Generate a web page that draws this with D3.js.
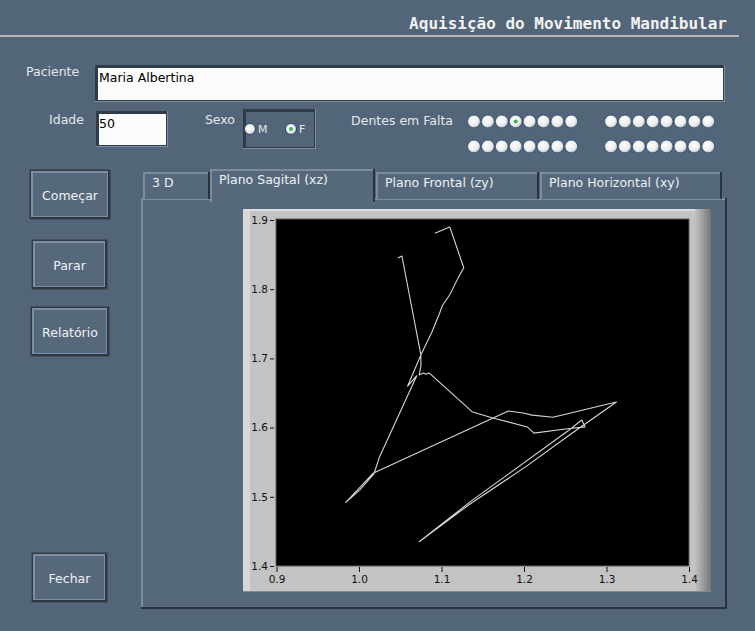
<!DOCTYPE html>
<html>
<head>
<meta charset="utf-8">
<script src="https://d3js.org/d3.v7.min.js"></script>
<style>
  body { margin: 0; background: #536578; }
  svg { display: block; }
</style>
</head>
<body>
<svg id="painel"></svg>
<script>
  // trajectory of the mandible, sagittal plane (x, z)
  const trajX = [1.047, 1.052, 1.075, 1.075, 1.073, 1.078, 1.081, 1.085, 1.137, 1.162,
                 1.204, 1.212, 1.250, 1.274, 1.270, 1.253, 1.135, 1.073, 1.135, 1.204,
                 1.256, 1.312, 1.235, 1.210, 1.199, 1.181, 1.017, 0.984, 1.001, 1.018,
                 1.025, 1.070, 1.059, 1.075, 1.088, 1.097, 1.101, 1.110, 1.120, 1.127,
                 1.110, 1.092];
  const trajZ = [1.845, 1.848, 1.705, 1.689, 1.676, 1.679, 1.677, 1.679, 1.623, 1.614,
                 1.601, 1.592, 1.598, 1.601, 1.611, 1.595, 1.493, 1.435, 1.490, 1.545,
                 1.590, 1.637, 1.615, 1.618, 1.621, 1.624, 1.534, 1.492, 1.510, 1.533,
                 1.558, 1.675, 1.660, 1.705, 1.737, 1.763, 1.776, 1.792, 1.816, 1.831,
                 1.890, 1.881];
  const xTicks = [0.9, 1.0, 1.1, 1.2, 1.3, 1.4];
  const yTicks = [1.4, 1.5, 1.6, 1.7, 1.8, 1.9];
  const tabs = ["3 D", "Plano Sagital (xz)", "Plano Frontal (zy)", "Plano Horizontal (xy)"];
  const buttons = ["Começar", "Parar", "Relatório", "Fechar"];
  const paciente = "Maria Albertina";
  const idade = "50";
  const dentesEmFalta = [3];   // index of the marked tooth (upper left group)

  const width = 755, height = 631;
  const bg = "#536578";
  const uiFont = "DejaVu Sans";

  const svg = d3.select("#painel").attr("width", width).attr("height", height);
  const defs = svg.append("defs");

  const rg = defs.append("radialGradient").attr("id", "bola").attr("cx", "40%").attr("cy", "35%").attr("r", "65%");
  rg.append("stop").attr("offset", "0%").attr("stop-color", "#ffffff");
  rg.append("stop").attr("offset", "70%").attr("stop-color", "#ececec");
  rg.append("stop").attr("offset", "100%").attr("stop-color", "#b7bcc2");

  const lg = defs.append("linearGradient").attr("id", "bordaDir");
  lg.append("stop").attr("offset", "0%").attr("stop-color", "#c2c2c2");
  lg.append("stop").attr("offset", "100%").attr("stop-color", "#767676");

  svg.append("rect").attr("width", width).attr("height", height).attr("fill", bg);

  // title
  svg.append("text")
    .attr("x", 727).attr("y", 29)
    .attr("text-anchor", "end")
    .attr("font-family", "DejaVu Sans Mono").attr("font-weight", "bold").attr("font-size", 16)
    .attr("fill", "#f2f2f2")
    .text("Aquisição do Movimento Mandibular");
  svg.append("line").attr("x1", 0).attr("x2", 739).attr("y1", 36).attr("y2", 36)
    .attr("stroke", "#d9d2c4").attr("stroke-width", 1.5);

  function label(x, y, t, anchor) {
    svg.append("text").attr("x", x).attr("y", y).attr("text-anchor", anchor || "start")
      .attr("font-family", uiFont).attr("font-size", 12.5).attr("fill", "#e4e8ec").text(t);
  }

  function sunken(x, y, w, h, fill) {
    svg.append("rect").attr("x", x).attr("y", y).attr("width", w).attr("height", h).attr("fill", "#7d8ea0");
    svg.append("rect").attr("x", x).attr("y", y).attr("width", w - 1).attr("height", h - 1).attr("fill", "#2e3b48");
    svg.append("rect").attr("x", x + 3).attr("y", y + 3).attr("width", w - 5).attr("height", h - 5).attr("fill", fill);
  }

  // Paciente / Idade / Sexo
  label(26, 76, "Paciente");
  sunken(95, 65, 630, 37, "#fbfbfb");
  svg.append("text").attr("x", 99).attr("y", 82).attr("font-family", uiFont).attr("font-size", 12.5)
    .attr("fill", "#000").text(paciente);

  label(84, 124, "Idade", "end");
  sunken(96, 111, 72, 36, "#fbfbfb");
  svg.append("text").attr("x", 99).attr("y", 128).attr("font-family", uiFont).attr("font-size", 12.5)
    .attr("fill", "#000").text(idade);

  label(235, 124, "Sexo", "end");
  sunken(243, 109, 73, 40, bg);
  [["M", 250, false], ["F", 291, true]].forEach(([t, cx, on]) => {
    svg.append("circle").attr("cx", cx).attr("cy", 129).attr("r", 5.5).attr("fill", "url(#bola)")
      .attr("stroke", "#24496e").attr("stroke-width", 1);
    if (on) svg.append("circle").attr("cx", cx).attr("cy", 129).attr("r", 2).attr("fill", "#2fbf3a");
    svg.append("text").attr("x", cx + 8).attr("y", 133).attr("font-family", uiFont).attr("font-size", 11)
      .attr("fill", "#e4e8ec").text(t);
  });

  // Dentes em Falta
  label(453, 125, "Dentes em Falta", "end");
  const dentes = d3.range(32);
  svg.append("g").selectAll("g").data(dentes).join("g")
    .attr("transform", i => {
      const row = Math.floor(i / 16), col = i % 16;
      const grp = Math.floor(col / 8), k = col % 8;
      return `translate(${474 + grp * 137 + k * 13.9},${121.5 + row * 25})`;
    })
    .each(function (i) {
      const g = d3.select(this);
      g.append("circle").attr("r", 6.4).attr("fill", "url(#bola)").attr("stroke", "#2a4b6e").attr("stroke-width", 0.8);
      if (dentesEmFalta.includes(i)) g.append("circle").attr("r", 2).attr("fill", "#2fbf3a");
    });

  // buttons
  const btnBoxes = [[30, 170, 80, 49], [32, 240, 75, 49], [31, 307, 78, 49], [32, 553, 75, 49]];
  buttons.forEach((t, i) => {
    const [x, y, w, h] = btnBoxes[i];
    const g = svg.append("g");
    g.append("rect").attr("x", x).attr("y", y).attr("width", w).attr("height", h).attr("fill", "#2a3440");
    g.append("rect").attr("x", x + 1).attr("y", y + 1).attr("width", w - 3).attr("height", h - 3).attr("fill", "#7d90a3");
    g.append("rect").attr("x", x + 3).attr("y", y + 3).attr("width", w - 6).attr("height", h - 6).attr("fill", "#56687b");
    g.append("rect").attr("x", x).attr("y", y).attr("width", w).attr("height", h).attr("fill", "none")
      .attr("stroke", "#3b3f44").attr("stroke-width", 1);
    g.append("text").attr("x", x + w / 2).attr("y", y + h / 2 + 5).attr("text-anchor", "middle")
      .attr("font-family", uiFont).attr("font-size", 12.5).attr("fill", "#eef1f4").text(t);
  });

  // tab control
  const tabBoxes = [[143, 210], [210, 375], [376, 539], [540, 722]];
  const panel = svg.append("g");
  panel.append("rect").attr("x", 141).attr("y", 198).attr("width", 586).attr("height", 411).attr("fill", "#28333e");
  panel.append("rect").attr("x", 141).attr("y", 198).attr("width", 584).attr("height", 409).attr("fill", "#7a8c9e");
  panel.append("rect").attr("x", 143).attr("y", 200).attr("width", 582).attr("height", 407).attr("fill", "#56697c");
  tabs.forEach((t, i) => {
    const [x0, x1] = tabBoxes[i];
    const sel = i === 1;
    const top = sel ? 169 : 172;
    const g = panel.append("g");
    g.append("rect").attr("x", x0).attr("y", top).attr("width", x1 - x0).attr("height", 199 - top + (sel ? 3 : 0)).attr("fill", "#28333e");
    g.append("rect").attr("x", x0).attr("y", top).attr("width", x1 - x0 - 2).attr("height", 199 - top + (sel ? 3 : 0)).attr("fill", "#7a8c9e");
    g.append("rect").attr("x", x0 + 2).attr("y", top + 2).attr("width", x1 - x0 - 4).attr("height", 199 - top + (sel ? 3 : -2)).attr("fill", "#56697c");
    g.append("text").attr("x", x0 + 9).attr("y", top + 15).attr("font-family", uiFont).attr("font-size", 12.5)
      .attr("fill", "#eef1f4").text(t);
  });

  // graph frame
  const fx = 243, fy = 209, fw = 468, fh = 383;
  svg.append("rect").attr("x", fx).attr("y", fy).attr("width", fw).attr("height", fh).attr("fill", "#c3c3c3");
  svg.append("rect").attr("x", fx).attr("y", fy).attr("width", 7).attr("height", fh).attr("fill", "#d8d8d8");
  svg.append("rect").attr("x", fx).attr("y", fy).attr("width", fw).attr("height", 2).attr("fill", "#dedede");
  svg.append("rect").attr("x", 695).attr("y", fy).attr("width", 16).attr("height", fh).attr("fill", "url(#bordaDir)");
  svg.append("rect").attr("x", fx).attr("y", fy + fh - 1).attr("width", fw).attr("height", 1).attr("fill", "#8a8a8a");

  const plot = { left: 276, right: 689, top: 219, bottom: 566 };
  const x = d3.scaleLinear().domain([0.9, 1.4]).range([plot.left + 0.5, plot.right]);
  const y = d3.scaleLinear().domain([1.4, 1.9]).range([plot.bottom, plot.top + 1]);

  svg.append("rect").attr("x", plot.left).attr("y", plot.top).attr("width", plot.right - plot.left)
    .attr("height", plot.bottom - plot.top).attr("fill", "#000").attr("stroke", "#5a5a5a").attr("stroke-width", 1);

  const xAxis = d3.axisBottom(x).tickValues(xTicks).tickFormat(d3.format(".1f")).tickSize(5).tickPadding(4).tickSizeOuter(0);
  const yAxis = d3.axisLeft(y).tickValues(yTicks).tickFormat(d3.format(".1f")).tickSize(4).tickPadding(2).tickSizeOuter(0);

  const gx = svg.append("g").attr("transform", `translate(0,${plot.bottom + 1})`).call(xAxis);
  const gy = svg.append("g").attr("transform", `translate(${plot.left - 2},0)`).call(yAxis);
  [gx, gy].forEach(g => {
    g.select(".domain").remove();
    g.selectAll("line").attr("stroke", "#111");
    g.selectAll("text").attr("font-family", uiFont).attr("font-size", 10.5).attr("fill", "#111");
  });

  const pts = trajX.map((v, i) => [v, trajZ[i]]);
  svg.append("path")
    .datum(pts)
    .attr("d", d3.line().x(d => x(d[0])).y(d => y(d[1])))
    .attr("fill", "none")
    .attr("stroke", "#d6d6d6")
    .attr("stroke-width", 1.1)
    .attr("stroke-linejoin", "round");
</script>
</body>
</html>
